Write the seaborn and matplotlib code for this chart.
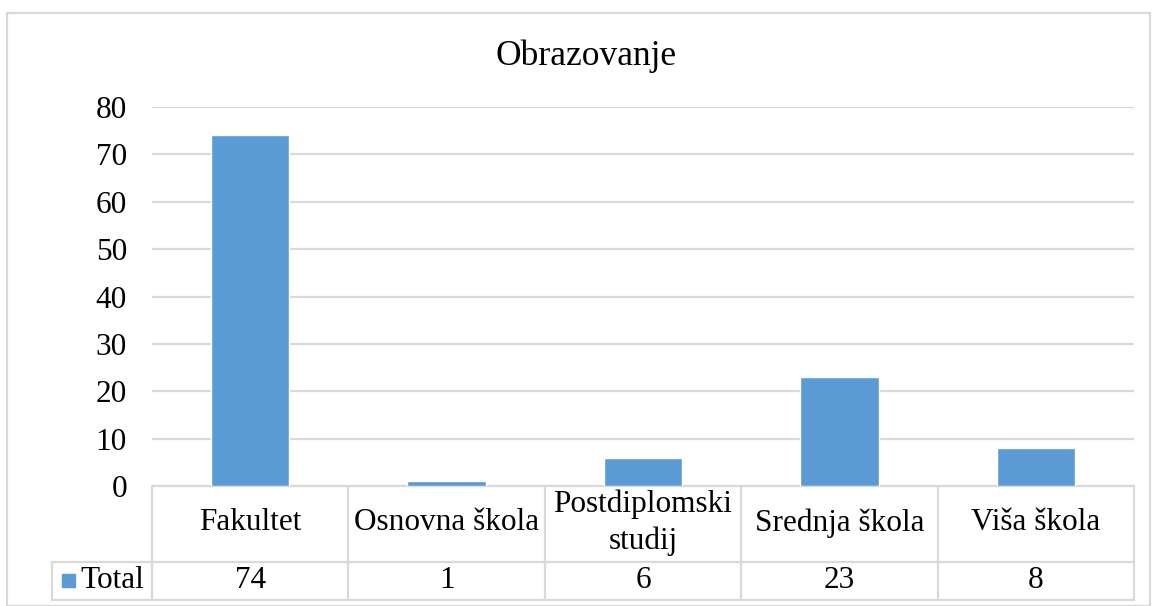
import matplotlib
matplotlib.use("Agg")
import matplotlib.pyplot as plt
import seaborn as sns
import pandas as pd
from matplotlib.patches import Rectangle
from matplotlib.lines import Line2D

# podaci
kategorije = ["Fakultet", "Osnovna škola", "Postdiplomski\nstudij", "Srednja škola", "Viša škola"]
vrijednosti = [74, 1, 6, 23, 8]
serija = "Total"
naslov = "Obrazovanje"
y_ticks = [0, 10, 20, 30, 40, 50, 60, 70, 80]

sns.set_theme(style="white")
plt.rcParams['font.family'] = ['Liberation Serif', 'DejaVu Serif']
plt.rcParams['text.color'] = 'black'

boja = "#5B9BD5"
siva = "#d9d9d9"
fs = 22.5

df = pd.DataFrame({"kat": kategorije, "n": vrijednosti})

W, H = 1157, 606
fig = plt.figure(figsize=(W / 100, H / 100), dpi=100)
ax = fig.add_axes([152 / W, 1 - 486 / H, (1134 - 152) / W, (486 - 107) / H])

sns.barplot(data=df, x="kat", y="n", color=boja, width=0.40, saturation=1, ax=ax, zorder=3)

ax.set_ylim(0, 80)
ax.set_xlim(-0.5, len(kategorije) - 0.5)
ax.set_yticks(y_ticks)
ax.tick_params(axis="y", labelsize=fs, length=0, pad=18, colors="black")
ax.set_xticks([])
ax.set_xlabel("")
ax.set_ylabel("")
ax.yaxis.grid(True, color=siva, linewidth=1.6, zorder=0)
for s in ax.spines.values():
    s.set_visible(False)

fig.text(586 / W, 1 - 56 / H, naslov, ha="center", va="center", fontsize=25.5, color="black")

# tablica podataka ispod grafa
def ay(py):
    return (486 - py) / (486 - 107)

def ax_x(px):
    return (px - 152) / (1134 - 152)

lw = 1.6
trans = ax.transAxes
for y0, x0 in [(486, 152), (562, 52), (600, 52)]:
    ax.add_line(Line2D([ax_x(x0), 1], [ay(y0), ay(y0)], transform=trans, color=siva, lw=lw, clip_on=False))
ax.add_line(Line2D([ax_x(52), ax_x(52)], [ay(562), ay(600)], transform=trans, color=siva, lw=lw, clip_on=False))
for i in range(len(kategorije) + 1):
    xx = i / len(kategorije)
    ax.add_line(Line2D([xx, xx], [ay(486), ay(600)], transform=trans, color=siva, lw=lw, clip_on=False))

for i, (k, v) in enumerate(zip(kategorije, vrijednosti)):
    xc = (i + 0.5) / len(kategorije)
    ax.text(xc, ay(523), k, transform=trans, ha="center", va="center", fontsize=fs, linespacing=1.32, color="black")
    ax.text(xc, ay(581), str(v), transform=trans, ha="center", va="center", fontsize=fs, color="black")

ax.add_patch(Rectangle((ax_x(62), ay(587)), ax_x(75) - ax_x(62), ay(574) - ay(587),
                       transform=trans, color=boja, clip_on=False))
ax.text(ax_x(80), ay(581), serija, transform=trans, ha="left", va="center", fontsize=fs, color="black")

# okvir grafikona
fig.patches.append(Rectangle((7 / W, 1 - 606 / H), (1150 - 7) / W, (606 - 13) / H,
                             transform=fig.transFigure, fill=False, edgecolor=siva, lw=1.6))

fig.savefig("out.png", dpi=100)
